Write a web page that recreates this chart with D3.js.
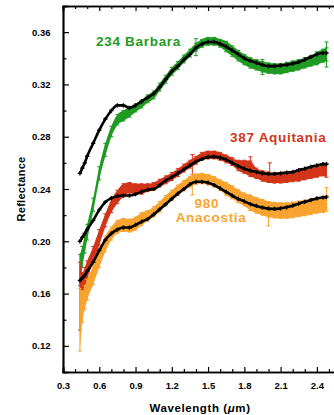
<!DOCTYPE html>
<html>
<head>
<meta charset="utf-8">
<script src="https://cdn.jsdelivr.net/npm/d3@7"></script>
<style>
  html, body { margin: 0; padding: 0; background: #fff; }
  svg { display: block; font-family: "Liberation Sans", Arial, sans-serif; font-weight: bold; }
</style>
</head>
<body>
<figure id="spectra" style="margin:0"></figure>
<script>
// wavelength grid (micron)
const wavelength = [0.44, 0.46, 0.48, 0.50, 0.55, 0.60, 0.65, 0.70, 0.75, 0.80, 0.85, 0.90, 0.95, 1.00, 1.05,
  1.10, 1.15, 1.20, 1.25, 1.30, 1.35, 1.40, 1.45, 1.50, 1.55, 1.60, 1.65, 1.70, 1.75, 1.80, 1.85, 1.90,
  1.95, 2.00, 2.05, 2.10, 2.15, 2.20, 2.25, 2.30, 2.35, 2.40, 2.45, 2.48];

// 234 Barbara
const barbara = [0.178, 0.188, 0.198, 0.207, 0.228, 0.252, 0.270, 0.284, 0.293, 0.296, 0.299, 0.302, 0.305, 0.309, 0.312,
  0.318, 0.324, 0.330, 0.3345, 0.3395, 0.344, 0.3485, 0.3515, 0.353, 0.353, 0.3515, 0.349, 0.3455, 0.342, 0.339, 0.3365, 0.335,
  0.3335, 0.3325, 0.332, 0.332, 0.333, 0.334, 0.335, 0.3365, 0.338, 0.340, 0.342, 0.343];
const barbaraErr = [0.012, 0.008, 0.007, 0.006, 0.005, 0.005, 0.005, 0.004, 0.004, 0.004, 0.004, 0.003, 0.003, 0.003, 0.003,
  0.003, 0.003, 0.003, 0.003, 0.003, 0.003, 0.003, 0.003, 0.003, 0.003, 0.003, 0.004, 0.004, 0.004, 0.004, 0.004, 0.004,
  0.004, 0.004, 0.004, 0.004, 0.004, 0.004, 0.004, 0.004, 0.004, 0.005, 0.005, 0.005];
const barbaraFit = [0.252, 0.256, 0.260, 0.265, 0.275, 0.285, 0.2935, 0.300, 0.304, 0.304, 0.302, 0.304, 0.307, 0.310, 0.313,
  0.318, 0.324, 0.330, 0.334, 0.339, 0.343, 0.348, 0.351, 0.3525, 0.3525, 0.351, 0.349, 0.346, 0.343, 0.340, 0.338, 0.3365,
  0.335, 0.334, 0.334, 0.3345, 0.335, 0.336, 0.337, 0.339, 0.341, 0.343, 0.344, 0.344];
// isolated long error bars: wavelength, low, high
const barbaraBarW = [1.40, 1.95, 2.48];
const barbaraBarLo = [0.3420, 0.3275, 0.3333];
const barbaraBarHi = [0.3550, 0.3390, 0.3525];

// 387 Aquitania
const aquitania = [0.158, 0.166, 0.172, 0.178, 0.190, 0.203, 0.216, 0.227, 0.234, 0.239, 0.241, 0.240, 0.240, 0.241, 0.242,
  0.2445, 0.247, 0.2495, 0.2525, 0.256, 0.259, 0.262, 0.265, 0.266, 0.266, 0.265, 0.263, 0.261, 0.258, 0.257, 0.2555, 0.252,
  0.250, 0.249, 0.2485, 0.2485, 0.249, 0.2495, 0.250, 0.251, 0.252, 0.253, 0.254, 0.254];
const aquitaniaErr = [0.026, 0.010, 0.008, 0.007, 0.006, 0.006, 0.005, 0.005, 0.005, 0.005, 0.004, 0.004, 0.004, 0.003, 0.003,
  0.003, 0.003, 0.003, 0.003, 0.003, 0.003, 0.003, 0.003, 0.003, 0.003, 0.003, 0.003, 0.003, 0.004, 0.005, 0.006, 0.004,
  0.004, 0.004, 0.004, 0.004, 0.004, 0.004, 0.004, 0.004, 0.004, 0.004, 0.004, 0.005];
const aquitaniaFit = [0.200, 0.203, 0.206, 0.209, 0.216, 0.224, 0.230, 0.233, 0.2345, 0.235, 0.235, 0.236, 0.238, 0.2395, 0.240,
  0.243, 0.2465, 0.249, 0.252, 0.255, 0.258, 0.261, 0.263, 0.2645, 0.2648, 0.264, 0.2625, 0.260, 0.2575, 0.2555, 0.254, 0.253,
  0.252, 0.2515, 0.2515, 0.252, 0.2525, 0.253, 0.2545, 0.2555, 0.257, 0.258, 0.259, 0.259];
const aquitaniaBarW = [1.37, 1.85, 2.01];
const aquitaniaBarLo = [0.2510, 0.2524, 0.2493];
const aquitaniaBarHi = [0.2664, 0.2646, 0.2600];

// 980 Anacostia
const anacostia = [0.140, 0.150, 0.157, 0.163, 0.174, 0.186, 0.198, 0.206, 0.211, 0.2125, 0.212, 0.2135, 0.217, 0.2195, 0.2225,
  0.2265, 0.231, 0.235, 0.239, 0.2425, 0.2455, 0.2475, 0.248, 0.247, 0.2455, 0.243, 0.240, 0.2375, 0.2345, 0.232, 0.2295, 0.2275,
  0.226, 0.2245, 0.2238, 0.2235, 0.2235, 0.224, 0.2248, 0.2255, 0.2265, 0.2275, 0.228, 0.229];
const anacostiaErr = [0.024, 0.012, 0.009, 0.008, 0.007, 0.006, 0.006, 0.005, 0.005, 0.005, 0.005, 0.005, 0.005, 0.004, 0.004,
  0.004, 0.004, 0.004, 0.004, 0.004, 0.004, 0.004, 0.004, 0.004, 0.004, 0.004, 0.005, 0.005, 0.005, 0.005, 0.006, 0.006,
  0.006, 0.006, 0.006, 0.006, 0.006, 0.006, 0.006, 0.006, 0.006, 0.006, 0.006, 0.006];
const anacostiaFit = [0.170, 0.172, 0.174, 0.177, 0.184, 0.193, 0.201, 0.206, 0.209, 0.2105, 0.2105, 0.2125, 0.215, 0.217, 0.2205,
  0.2245, 0.2285, 0.2325, 0.2365, 0.240, 0.2435, 0.2455, 0.2455, 0.2448, 0.243, 0.2405, 0.2378, 0.235, 0.2325, 0.2305, 0.2285, 0.227,
  0.2258, 0.225, 0.2248, 0.2252, 0.226, 0.2272, 0.2288, 0.2302, 0.2315, 0.2328, 0.2335, 0.2338];
const anacostiaBarW = [1.37, 2.00, 2.48];
const anacostiaBarLo = [0.2354, 0.2117, 0.2255];
const anacostiaBarHi = [0.2511, 0.2255, 0.2410];

const xMajor = [0.3, 0.6, 0.9, 1.2, 1.5, 1.8, 2.1, 2.4];
const xMinor = [0.4, 0.5, 0.7, 0.8, 1.0, 1.1, 1.3, 1.4, 1.6, 1.7, 1.9, 2.0, 2.2, 2.3, 2.5];
const yMajor = [0.12, 0.16, 0.20, 0.24, 0.28, 0.32, 0.36];
const yMinor = [0.14, 0.18, 0.22, 0.26, 0.30, 0.34, 0.38];

const width = 334, height = 415;
const mLeft = 63, mTop = 6, mRight = 335, mBottom = 372;

const svg = d3.select("figure#spectra")
  .append("svg")
  .attr("width", width)
  .attr("height", height);

const x = d3.scaleLinear().domain([0.3, 2.55]).range([mLeft, mRight]);
const y = d3.scaleLinear().domain([0.10, 0.38]).range([mBottom, mTop]);

svg.append("clipPath").attr("id", "plot")
  .append("rect").attr("x", mLeft).attr("y", mTop).attr("width", mRight - mLeft).attr("height", mBottom - mTop);

const plot = svg.append("g").attr("clip-path", "url(#plot)");

function barPath(cx, lo, hi) {
  return "M" + cx + "," + lo + "V" + hi + "M" + (cx - 2) + "," + lo + "h4M" + (cx - 2) + "," + hi + "h4";
}

function drawSeries(vals, errs, barW, barLo, barHi, color) {
  const pts = wavelength.map((w, i) => ({ w: w, v: vals[i], e: errs[i] }));
  plot.append("path")
    .datum(pts)
    .attr("fill", color)
    .attr("d", d3.area()
      .x(d => x(d.w))
      .y0(d => y(d.v - d.e))
      .y1(d => y(d.v + d.e))
      .curve(d3.curveMonotoneX));
  // error bars
  plot.append("g").selectAll("path")
    .data(pts)
    .enter()
    .append("path")
    .attr("stroke", color)
    .attr("stroke-width", 1)
    .attr("fill", "none")
    .attr("d", d => barPath(x(d.w), y(d.v - d.e), y(d.v + d.e)));
  plot.append("g").selectAll("path")
    .data(barW)
    .enter()
    .append("path")
    .attr("stroke", color)
    .attr("stroke-width", 1)
    .attr("fill", "none")
    .attr("d", (w, i) => barPath(x(w), y(barLo[i]), y(barHi[i])));
}

function drawFit(vals) {
  const pts = wavelength.map((w, i) => ({ w: w, v: vals[i] }));
  plot.append("path")
    .datum(pts)
    .attr("fill", "none")
    .attr("stroke", "#000")
    .attr("stroke-width", 2.6)
    .attr("d", d3.line().x(d => x(d.w)).y(d => y(d.v)).curve(d3.curveMonotoneX));
  plot.append("g").selectAll("path")
    .data(pts)
    .enter()
    .append("path")
    .attr("transform", d => "translate(" + x(d.w) + "," + y(d.v) + ")")
    .attr("d", d3.symbol(d3.symbolCross).size(10))
    .attr("fill", "#000");
}

const green = "#1f9a22", red = "#d2351a", orange = "#f9a430";

drawSeries(barbara, barbaraErr, barbaraBarW, barbaraBarLo, barbaraBarHi, green);
drawSeries(aquitania, aquitaniaErr, aquitaniaBarW, aquitaniaBarLo, aquitaniaBarHi, red);
drawSeries(anacostia, anacostiaErr, anacostiaBarW, anacostiaBarLo, anacostiaBarHi, orange);
drawFit(barbaraFit);
drawFit(aquitaniaFit);
drawFit(anacostiaFit);

// axes: ticks pointing inward
svg.append("g")
  .attr("transform", "translate(0," + mBottom + ")")
  .call(d3.axisBottom(x).tickValues(xMajor).tickSize(-5).tickPadding(10.5).tickFormat(d3.format(".1f")));
svg.append("g")
  .attr("transform", "translate(0," + mBottom + ")")
  .call(d3.axisBottom(x).tickValues(xMinor).tickSize(-3).tickFormat(""));
svg.append("g")
  .attr("transform", "translate(0," + mTop + ")")
  .call(d3.axisTop(x).tickValues(xMajor).tickSize(-5).tickFormat(""));
svg.append("g")
  .attr("transform", "translate(0," + mTop + ")")
  .call(d3.axisTop(x).tickValues(xMinor).tickSize(-3).tickFormat(""));
svg.append("g")
  .attr("transform", "translate(" + mLeft + ",0)")
  .call(d3.axisLeft(y).tickValues(yMajor).tickSize(-6).tickPadding(12.5).tickFormat(d3.format(".2f")));
svg.append("g")
  .attr("transform", "translate(" + mLeft + ",0)")
  .call(d3.axisLeft(y).tickValues(yMinor).tickSize(-3.5).tickFormat(""));

svg.selectAll(".domain").attr("stroke-width", 1.7);
svg.selectAll(".tick line").attr("stroke-width", 1.2);
svg.selectAll(".tick text")
  .attr("fill", "#000")
  .style("font-family", "'Liberation Sans', Arial, sans-serif")
  .style("font-weight", "bold")
  .style("font-size", "9.5px");

svg.append("text")
  .attr("transform", "translate(25," + ((mTop + mBottom) / 2) + ") rotate(-90)")
  .attr("text-anchor", "middle")
  .style("font-size", "11px")
  .style("letter-spacing", "0.3px")
  .text("Reflectance");

const xl = svg.append("text")
  .attr("x", 200)
  .attr("y", 412)
  .attr("text-anchor", "middle")
  .style("font-size", "11.5px")
  .style("letter-spacing", "0.6px");
xl.append("tspan").text("Wavelength (");
xl.append("tspan").style("font-style", "italic").text("\u03bc");
xl.append("tspan").text("m)");

// series labels
svg.append("text")
  .attr("x", x(0.573)).attr("y", y(0.3494))
  .attr("fill", green)
  .style("font-size", "13.5px").style("letter-spacing", "0.7px")
  .text("234 Barbara");
svg.append("text")
  .attr("x", x(1.682)).attr("y", y(0.2756))
  .attr("fill", red)
  .style("font-size", "13.5px").style("letter-spacing", "0.7px")
  .text("387 Aquitania");
svg.append("text")
  .attr("x", x(1.49)).attr("y", y(0.2258))
  .attr("text-anchor", "middle")
  .attr("fill", orange)
  .style("font-size", "13.5px").style("letter-spacing", "0.7px")
  .text("980");
svg.append("text")
  .attr("x", x(1.525)).attr("y", y(0.2151))
  .attr("text-anchor", "middle")
  .attr("fill", orange)
  .style("font-size", "13.5px").style("letter-spacing", "0.7px")
  .text("Anacostia");
</script>
</body>
</html>
